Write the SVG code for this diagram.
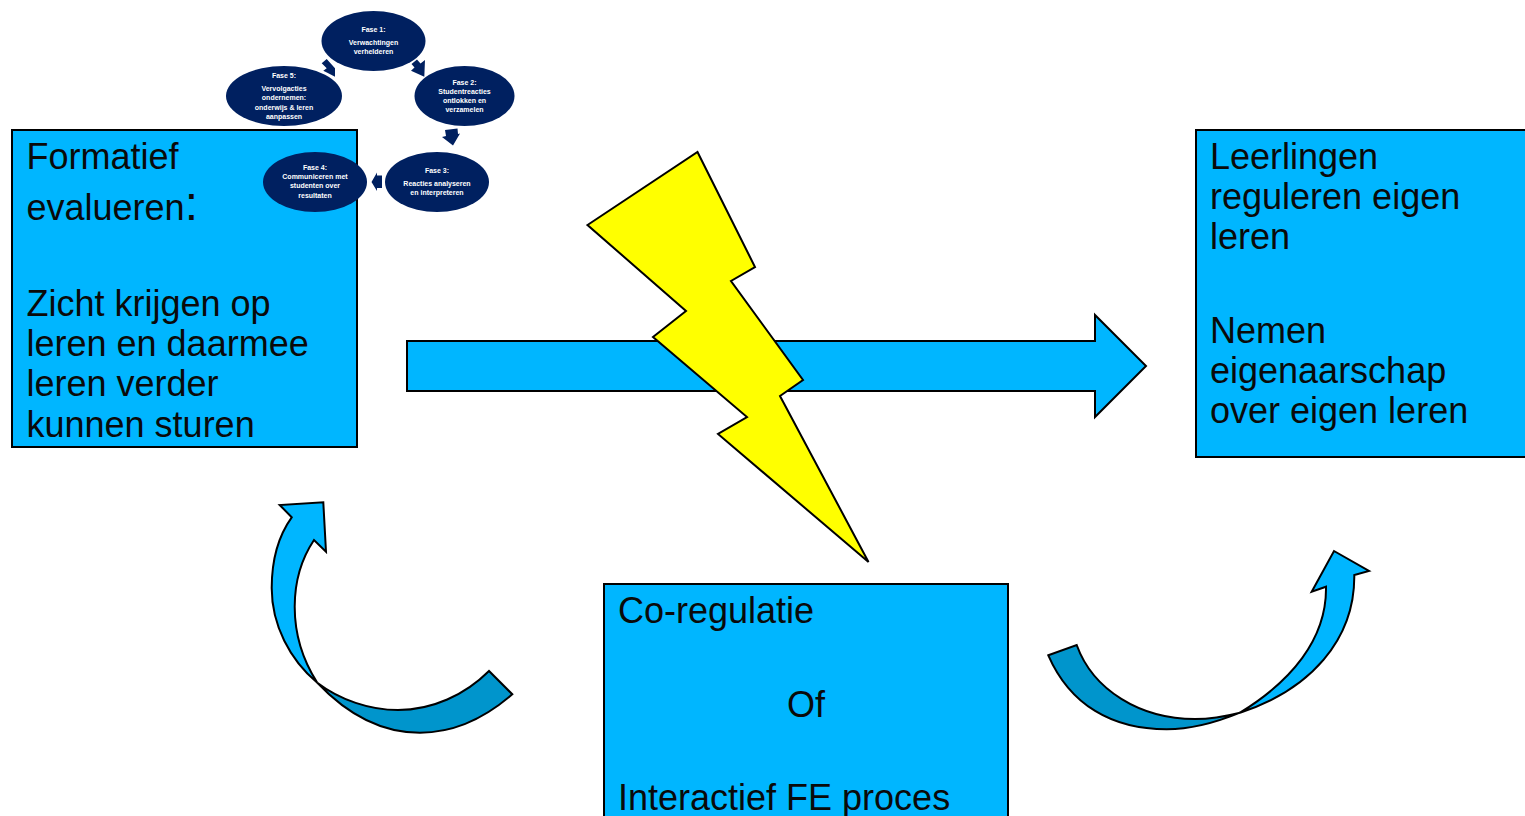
<svg xmlns="http://www.w3.org/2000/svg" width="1525" height="816" viewBox="0 0 1525 816">
<style>
.s{stroke:#000;stroke-width:2;stroke-linejoin:miter}
.b{fill:#00b6ff}
.d{fill:#0095cc}
.t{font-family:"Liberation Sans",Arial,sans-serif;font-size:36px;fill:#0a0a0a}
.e{fill:#002060}
.w{font-family:"Liberation Sans",Arial,sans-serif;font-size:7px;font-weight:bold;fill:#fff;text-anchor:middle}
</style>
<rect width="1525" height="816" fill="#fff"/>
<g id="connectors">
<path id="main-arrow" class="s b" d="M407 341H1095V315L1146 366L1095 417V391H407Z"/>
<g id="curve-left">
<path class="s b" d="M291.700 517.300L279.700 505L323.300 502.300L326 551.700L314 540C302 558 294.700 582 294.700 606.700C294.700 635 304 662 317.300 682.700C290 660 271.700 625 271.700 588C271.700 558 279 535 291.700 517.300Z"/>
<path class="s d" d="M317.300 682.700C340 700 370 710 398 710C432 710 465 695 489 671L512.300 694.300C485 718 453 732.700 420 732.700C380 732.700 345 712 317.300 682.700Z"/>
</g>
<g id="curve-right">
<path class="s d" d="M1048.300 655.300L1076.700 645C1093 690 1140 719 1195 719C1212 719 1227 716 1240 712.700C1215 723 1190 729.300 1166.700 729.300C1112 729.300 1070 705 1048.300 655.300Z"/>
<path class="s b" d="M1240 712.700C1290 682 1327 640 1326 586.700L1311.700 591.700L1334 551L1369 571L1354.300 575C1355 640 1310 690 1240 712.700Z"/>
</g>
<g id="cycle-arrows" class="e">
<polygon points="425,60 424.300,76.700 411,70.700 414.500,67.500 411.500,64 417,59.500 420.500,63.500"/>
<polygon points="445,130 457.500,128.500 458,134 460,133.500 453,145.500 442,137 446,136"/>
<polygon points="382,175.500 382,188 377,188 377,191 371.500,182 377,172.500 377,175.500"/>
<polygon points="290,142.700 298.300,132.700 309.300,136 305,138.500 306,145 296,147.300 295,141.700"/>
<polygon points="321.700,63.300 326.700,59 335,68.300 335,76.700 328.300,73.300 323.300,70.700 326.700,68.300"/>
</g>
</g>
<g id="node-formatief">
<rect class="s b" x="12" y="130" width="345" height="317"/>
<text class="t" x="26.500" y="169">Formatief</text>
<text class="t" x="26.500" y="220">evalueren<tspan font-size="48">:</tspan></text>
<text class="t" x="26.500" y="316">Zicht krijgen op</text>
<text class="t" x="26.500" y="356">leren en daarmee</text>
<text class="t" x="26.500" y="396">leren verder</text>
<text class="t" x="26.500" y="437">kunnen sturen</text>
</g>
<g id="node-leerlingen">
<rect class="s b" x="1196" y="130" width="340" height="327"/>
<text class="t" x="1210" y="169">Leerlingen</text>
<text class="t" x="1210" y="209">reguleren eigen</text>
<text class="t" x="1210" y="249">leren</text>
<text class="t" x="1210" y="343">Nemen</text>
<text class="t" x="1210" y="383">eigenaarschap</text>
<text class="t" x="1210" y="423">over eigen leren</text>
</g>
<g id="node-coregulatie">
<rect class="s b" x="604" y="584" width="404" height="250"/>
<text class="t" x="618" y="623">Co-regulatie</text>
<text class="t" x="787" y="717">Of</text>
<text class="t" x="618" y="810">Interactief FE proces</text>
</g>
<polygon id="bolt" class="s" fill="#ffff00" points="697.500,152 755,267 731,281 803,380 780,396 868.500,562 718,434 747,417 653,337 686,311 587.500,225"/>
<g id="fase-1"><ellipse class="e" cx="373.500" cy="41" rx="52" ry="30"/>
<text class="w" x="373.500" y="32">Fase 1:</text><text class="w" x="373.500" y="45">Verwachtingen</text><text class="w" x="373.500" y="54">verhelderen</text></g>
<g id="fase-2"><ellipse class="e" cx="464.500" cy="96" rx="50" ry="30"/>
<text class="w" x="464.500" y="85">Fase 2:</text><text class="w" x="464.500" y="94">Studentreacties</text><text class="w" x="464.500" y="103">ontlokken en</text><text class="w" x="464.500" y="112">verzamelen</text></g>
<g id="fase-3"><ellipse class="e" cx="437" cy="182" rx="52" ry="30"/>
<text class="w" x="437" y="173">Fase 3:</text><text class="w" x="437" y="186">Reacties analyseren</text><text class="w" x="437" y="195">en interpreteren</text></g>
<g id="fase-4"><ellipse class="e" cx="315" cy="182" rx="52" ry="30"/>
<text class="w" x="315" y="170">Fase 4:</text><text class="w" x="315" y="179">Communiceren met</text><text class="w" x="315" y="188">studenten over</text><text class="w" x="315" y="198">resultaten</text></g>
<g id="fase-5"><ellipse class="e" cx="284" cy="96" rx="58" ry="30"/>
<text class="w" x="284" y="78">Fase 5:</text><text class="w" x="284" y="91">Vervolgacties</text><text class="w" x="284" y="100">ondernemen:</text><text class="w" x="284" y="110">onderwijs &amp; leren</text><text class="w" x="284" y="119">aanpassen</text></g>
</svg>
